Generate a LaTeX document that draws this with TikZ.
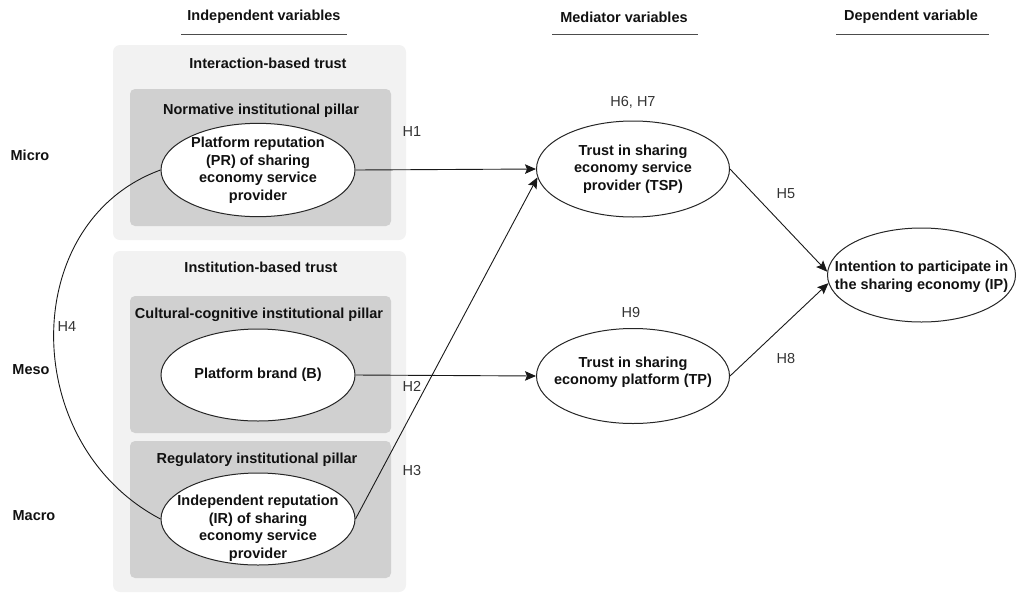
\documentclass[tikz,border=0pt]{standalone}
\usepackage{fontspec}
\setmainfont{Liberation Sans}
\usetikzlibrary{arrows.meta,shapes.geometric}
\definecolor{outerfill}{HTML}{F2F2F2}
\definecolor{innerfill}{HTML}{D0D0D0}
\definecolor{hcol}{HTML}{333333}
\definecolor{tcol}{HTML}{111111}
\begin{document}
\begin{tikzpicture}[x=1pt,y=-1pt,
  every node/.style={font=\fontsize{14.5}{17.5}\selectfont},
  bold/.style={font=\fontsize{14.5}{17.5}\selectfont\bfseries, align=center, text=tcol, inner sep=0pt},
  hyp/.style={font=\fontsize{14.5}{17.5}\selectfont, text=hcol, inner sep=0pt},
  outerbox/.style={draw=none, fill=outerfill, rounded corners=7pt, inner sep=0pt},
  innerbox/.style={draw=none, fill=innerfill, rounded corners=5pt, inner sep=0pt},
  ell/.style={draw=black!85, ellipse, fill=white, line width=1pt, inner sep=0pt, align=center,
              font=\fontsize{14.5}{17.5}\selectfont\bfseries, text=tcol},
  arr/.style={-{Stealth[length=11pt,width=9.5pt,inset=2pt]}, line width=0.9pt, draw=black!90},
  conn/.style={line width=0.9pt, draw=black!90},
  uline/.style={line width=0.7pt, draw=black!70}
]
\useasboundingbox (0,0) rectangle (1017,595);

% headers
\node[bold] (hIV) at (264,17) {Independent variables};
\node[bold] (hMV) at (624,17) {Mediator variables};
\node[bold] (hDV) at (911,17) {Dependent variable};
\coordinate (u1a) at (181,34); \coordinate (u1b) at (347,34);
\coordinate (u2a) at (552,34); \coordinate (u2b) at (698,34);
\coordinate (u3a) at (836,34); \coordinate (u3b) at (989,34);
\draw[uline] (u1a) -- (u1b);
\draw[uline] (u2a) -- (u2b);
\draw[uline] (u3a) -- (u3b);

% boxes
\node[outerbox, minimum width=293pt, minimum height=195pt] (ob1) at (259.5,142.5) {};
\node[outerbox, minimum width=293pt, minimum height=341pt] (ob2) at (259.5,421.5) {};
\node[innerbox, minimum width=261pt, minimum height=137pt] (ib1) at (260.5,157.5) {};
\node[innerbox, minimum width=261pt, minimum height=137pt] (ib2) at (260.5,364.5) {};
\node[innerbox, minimum width=261pt, minimum height=137pt] (ib3) at (260.5,509.5) {};

\node[bold] (t1) at (268,63) {Interaction-based trust};
\node[bold] (t2) at (261,111) {Normative institutional pillar};
\node[bold] (t3) at (261,267) {Institution-based trust};
\node[bold] (t4) at (259,315) {Cultural-cognitive institutional pillar};
\node[bold] (t5) at (257,460) {Regulatory institutional pillar};

% level labels
\node[bold] (lmi) at (30,155) {Micro};
\node[bold] (lme) at (31,370) {Meso};
\node[bold] (lma) at (34,516) {Macro};

% ellipses
\node[ell, minimum width=194pt, minimum height=91pt] (PR) at (258,170)
  {Platform reputation\\(PR) of sharing\\economy service\\provider};
\node[ell, minimum width=194pt, minimum height=92pt] (B) at (258,375) {Platform brand (B)};
\node[ell, minimum width=194pt, minimum height=92pt] (IR) at (258,519) {};
\node[bold] (IRt) at (258,528) {Independent reputation\\(IR) of sharing\\economy service\\provider};
\node[ell, minimum width=193pt, minimum height=96pt] (TSP) at (633,169)
  {Trust in sharing\\economy service\\provider (TSP)};
\node[ell, minimum width=193pt, minimum height=95pt] (TP) at (633,376) {};
\node[bold] (TPt) at (633,372) {Trust in sharing\\economy platform (TP)};
\node[ell, minimum width=188pt, minimum height=94pt] (IP) at (921.5,275) {};
\node[bold] (IPt) at (921.5,277) {Intention to participate in\\the sharing economy (IP)};

% connectors
\draw[arr] (PR.east) -- (TSP.west);
\draw[arr] (B.east) -- (TP.west);
\draw[arr] (IR.east) -- (TSP.185);
\draw[arr] (TSP.east) -- (IP.178);
\draw[arr] (TP.east) -- (IP.185);
\draw[conn] (PR.west) .. controls (18,222) and (18,444) .. (IR.west);

% hypothesis labels
\node[hyp] (h1) at (412,132) {H1};
\node[hyp] (h2) at (412,386) {H2};
\node[hyp] (h3) at (412,470) {H3};
\node[hyp] (h4) at (67,327) {H4};
\node[hyp] (h5) at (786,194) {H5};
\node[hyp] (h67) at (633,102) {H6, H7};
\node[hyp] (h8) at (786,359) {H8};
\node[hyp] (h9) at (631,313) {H9};
\end{tikzpicture}
\end{document}
